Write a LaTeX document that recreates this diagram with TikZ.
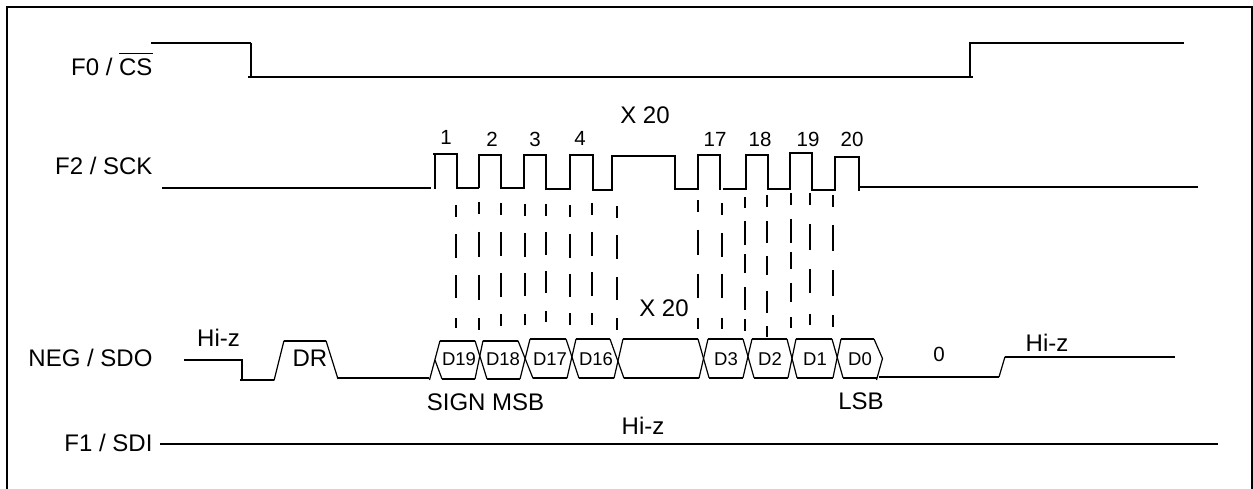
\documentclass[tikz,border=0pt]{standalone}
\usepackage{fontspec}
\setmainfont{Liberation Sans}
\newcommand{\bigtxt}{\fontsize{24}{26}\selectfont}
\newcommand{\midtxt}{\fontsize{20.5}{22}\selectfont}
\newcommand{\smalltxt}{\fontsize{18.5}{20}\selectfont}
\tikzset{
  sig/.style={line width=1.9pt,line join=miter},
  thin sig/.style={line width=1.2pt},
  dashline/.style={line width=1.6pt},
  lab/.style={inner sep=0pt,outer sep=0pt,anchor=base east,font=\bigtxt},
  big/.style={inner sep=0pt,outer sep=0pt,anchor=base,font=\bigtxt},
  num/.style={inner sep=0pt,outer sep=0pt,anchor=base,font=\midtxt},
  bit/.style={inner sep=0pt,outer sep=0pt,anchor=base,font=\smalltxt}
}
\begin{document}
\begin{tikzpicture}[x=1pt,y=-1pt]
\useasboundingbox (0,0) rectangle (1253,489);
% frame, open at the bottom
\draw[sig] (6.7,489) -- (6.7,6.7) -- (1251.6,6.7) -- (1251.6,489);
% signal labels
\node[lab] (cs) at (152.5,76) {F0 / CS};
\draw[line width=1.6pt] (119,53.7) -- (153,53.7);
\node[lab] (sck) at (152.5,174.7) {F2 / SCK};
\node[lab] (sdo) at (152.5,366.7) {NEG / SDO};
\node[lab] (sdi) at (152.5,451) {F1 / SDI};
% F0 / CS
\draw[sig] (151,43) -- (250.5,43);
\draw[sig] (250.7,43) -- (250.7,77);
\draw[sig] (248,77) -- (973,77);
\draw[sig] (970.3,77) -- (970.3,43) -- (1183.5,43);
% F2 / SCK
\draw[sig] (162,188) -- (431,188);
\draw[sig] (435,188.7) |- (458,153.7);
\draw[sig] (433,153.7) -- (458,153.7);
\draw[sig] (457.4,153.7) |- (479,187.7);
\draw[sig] (479,187.7) |- (501,154.7) |- (524,187.7) |- (546,154.7) |- (570,188.7) |- (593,154.7) |- (612,189.7) |- (675,155.7) |- (698,189) |- (720,154.7) -- (720,190);
\draw[sig] (723,189) -- (746,189) |- (768,154.7) |- (790,189) |- (812,152.7) |- (835,189.7) |- (859.3,156.7) -- (859.3,190.7);
\draw[sig] (860,186.8) -- (1197.7,186.8);
% dashes, column by column
\foreach \cx/\ya/\yb in {
 456/205/217,479/202/214,501/203/215,525/204/216,546/204/216,570/205/217,592/203/215,617/206/218,
 698/200/212,722/203/215,745/197/208,767/195/207,791/193/205,810/193/205,833/195/207,
 456/234/258,479/232/257,501/232/256,525/233/257,546/232/255,570/234/258,592/232/256,617/235/259,
 698/230/255,722/233/257,745/221/245,767/221/243,791/219/243,810/224/250,833/225/251,
 456/275/298,479/275/300,501/273/297,525/273/296,546/271/293,570/274/297,592/272/296,617/277/300,
 698/274/298,722/274/298,745/254/273,767/256/275,791/252/269,810/269/293,833/270/296,
 745/287/310,767/291/313,791/283/302,
 456/318/328,479/318/330,501/314/326,525/314/325,546/311/322,570/313/325,592/313/325,617/318/330,
 698/318/329,722/318/329,745/319/331,767/326/337,791/317/328,810/314/325,833/315/327}{
  \draw[dashline] (\cx,\ya) -- (\cx,\yb);
}
% NEG / SDO, before the data
\draw[sig] (184,360) -- (241.7,360) -- (241.7,380);
\draw[sig] (240,380) -- (274,380);
\draw[thin sig] (274,380.5) -- (284,340.7);
\draw[sig] (284,340.7) -- (326,340.7);
\draw[thin sig] (326,340.7) -- (338,379);
\draw[sig] (338,377.7) -- (429,377.7);
\draw[thin sig] (429.5,380) -- (440,340.7);
\draw[thin sig] (435,360) -- (442,379);
% data cells: horizontals
\foreach \xa/\xb/\yt in {440/475/340.7,483/518/340.7,530/566/339,576/610/339,623/698/339,708/743/339,752/787/339,796/832/339,841/874/339}{
  \draw[sig] (\xa,\yt) -- (\xb,\yt);
}
\foreach \xa/\xb/\yt in {442/475/379,487/520/379,533/567/378.3,579/614/378.3,624/699/378.3,709/743/377.7,754/788/377.7,797/833/377.7,843/877/377.7}{
  \draw[sig] (\xa,\yt) -- (\xb,\yt);
}
% data cells: crossings
\foreach \ta/\tb/\ba/\bb/\yt/\ytt/\yb/\ybb in {
 475/483/475/487/340.7/340.7/379/379,518/530/520/533/340.7/339/379/378.3,566/576/567/579/339/339/378.3/378.3,
 610/623/614/624/339/339/378.3/378.3,698/708/699/709/339/339/378.3/377.7,743/752/743/754/339/339/377.7/377.7,
 787/796/788/797/339/339/377.7/377.7,832/841/833/843/339/339/377.7/377.7}{
  \draw[thin sig] (\ta,\yt) -- (\bb,\ybb);
  \draw[thin sig] (\tb,\ytt) -- (\ba,\yb);
}
\draw[thin sig] (874,339) -- (882.5,358.5) -- (876.5,380);
% NEG / SDO, after the data
\draw[sig] (879,376.7) -- (999,376.7);
\draw[thin sig] (999,377) -- (1005,356.7);
\draw[sig] (1005,356.7) -- (1175,356.7);
% F1 / SDI
\draw[sig] (160,444) -- (1217.7,444);
% texts
\foreach \nm/\cx/\by/\t in {n1/446/145/1,n2/492/146.7/2,n3/535/146.7/3,n4/580/145.7/4,n17/715/146.7/17,n18/760/146.7/18,n19/808/146.7/19,n20/852/146.7/20,nz/939/361/0}{
  \node[num] (\nm) at (\cx,\by) {\t};
}
\foreach \nm/\cx/\t in {d19/459/D19,d18/503/D18,d17/550/D17,d16/596/D16,d3/726/D3,d2/770/D2,d1/815/D1,d0/860/D0}{
  \node[bit] (\nm) at (\cx,365.7) {\t};
}
\node[big] (xa) at (645,123.3) {X 20};
\node[big] (xb) at (664,316.7) {X 20};
\node[big] (hz1) at (218.5,346.7) {Hi-z};
\node[big] (dr) at (310,366.7) {DR};
\node[big] (hz2) at (1047,351) {Hi-z};
\node[big] (hz3) at (643,434) {Hi-z};
\node[big] (sm) at (485.5,410) {SIGN MSB};
\node[big] (lsb) at (861,409.5) {LSB};
\end{tikzpicture}
\end{document}
